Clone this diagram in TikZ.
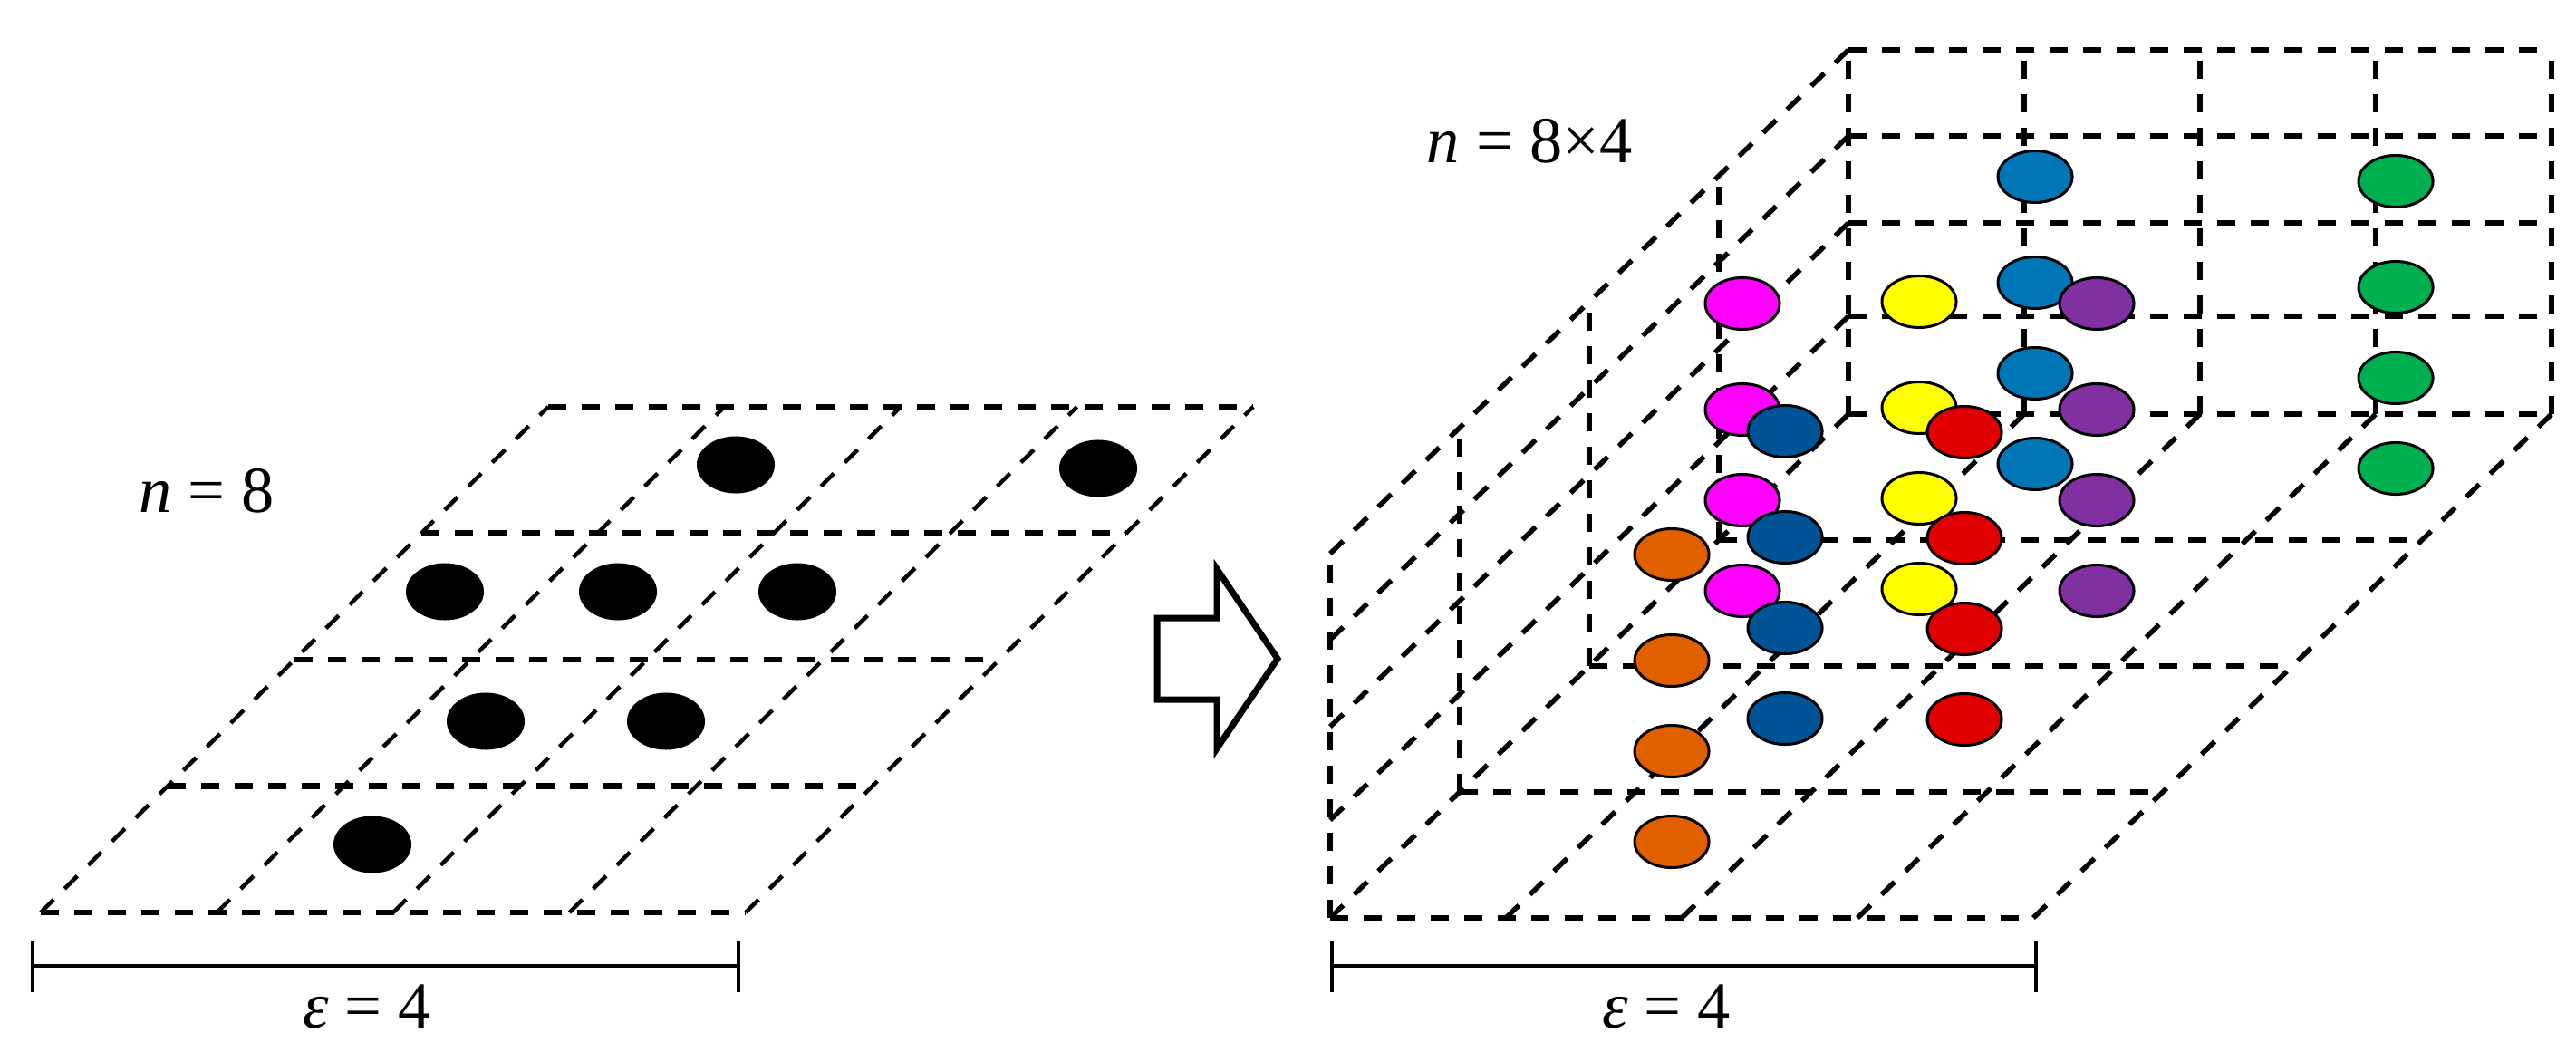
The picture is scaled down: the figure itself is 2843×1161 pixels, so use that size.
\documentclass[tikz,border=0pt]{standalone}
\usepackage{fontspec}
\setmainfont{Liberation Serif}
\usepackage{tikz}
\usetikzlibrary{positioning}
\usetikzlibrary{shapes.geometric}

\definecolor{dotmagenta}{RGB}{255,0,255}
\definecolor{dotnavy}{RGB}{0,84,150}
\definecolor{dotorange}{RGB}{224,96,0}
\definecolor{dotyellow}{RGB}{255,255,0}
\definecolor{dotred}{RGB}{224,0,0}
\definecolor{dotblue}{RGB}{0,118,182}
\definecolor{dotpurple}{RGB}{128,48,160}
\definecolor{dotgreen}{RGB}{0,176,80}

\tikzset{
	gridline/.style = {line width=0.055cm, dash pattern=on 0.2cm off 0.17cm},
	blackdot/.style = {ellipse, fill=black, inner sep=0pt, minimum width=0.86cm, minimum height=0.63cm},
	colordot/.style = {ellipse, draw=black, fill=#1, line width=0.03cm, inner sep=0pt,
					   minimum width=0.82cm, minimum height=0.57cm},
	lbl/.style = {inner sep=0pt, font=\fontsize{20.6pt}{25pt}\selectfont},
	bar/.style = {line width=0.04cm}
}

\begin{document}
\begin{tikzpicture}[x=0.01cm, y=-0.01cm]
	\useasboundingbox (0,0) rectangle (2843,1161);

	% plane, n = 8
	\foreach \r in {0,...,4}
		\draw[gridline, line width=0.065cm] ({45+140*\r},{1007-139.5*\r}) -- ++(778,0);
	\foreach \c in {0,...,4}
		\draw[gridline, line width=0.045cm] ({45+194.5*\c},1007) -- ++(560,-558);
	\foreach \x/\y [count=\i] in {812/513, 1212/517, 491/653, 682/653, 880/653, 536/796, 735/796, 411/932}
		\node[blackdot] (p\i) at (\x,\y) {};
	\node[lbl, anchor=base] (nleft) at (228,565) {\textit{n} = 8};

	% epsilon, left
	\coordinate (la) at (36,1066);
	\coordinate (lb) at (815,1066);
	\coordinate (lmid) at (405,1066);
	\draw[bar] (la) -- (lb);
	\draw[bar] (la) ++(0,-27) -- ++(0,56);
	\draw[bar] (lb) ++(0,-27) -- ++(0,56);
	\node[lbl, below=0.2cm of lmid] (epsleft) {\textit{ε} = 4};

	% arrow
	\draw[line width=0.07cm] (1277,682) -- (1343,682) -- (1343,628) -- (1410,727)
		-- (1343,826) -- (1343,772) -- (1277,772) -- cycle;

	% floor
	\foreach \r in {0,...,4}
		\draw[gridline] ({1468+143*\r},{1013-139*\r}) -- ++(776,0);
	\foreach \c in {0,...,4}
		\draw[gridline] ({1468+194*\c},1013) -- ++(572,-556);
	% left wall
	\foreach \r in {0,...,4}
		\draw[gridline] ({1468+143*\r},{1013-139*\r}) -- ++(0,-402);
	\foreach \h in {108,211,307,402}
		\draw[gridline] (1468,{1013-\h}) -- ++(572,-556);
	% back wall
	\foreach \c in {1,...,4}
		\draw[gridline] ({2040+194*\c},457) -- ++(0,-402);
	\foreach \h in {108,211,307,402}
		\draw[gridline] (2040,{457-\h}) -- ++(776,0);

	% stacked points, n = 8x4
	\foreach \col/\x/\y in {dotmagenta/1923/652, dotnavy/1970/793, dotorange/1845/929, dotyellow/2118/650,
						   dotred/2168/794, dotblue/2246/512, dotpurple/2314/652, dotgreen/2644/517}
		\foreach \dy [count=\j] in {0,100,200,317}
			\node[colordot=\col] (\col\j) at (\x,{\y-\dy}) {};
	\node[lbl, anchor=base] (nright) at (1688,180) {\textit{n} = 8×4};

	% epsilon, right
	\coordinate (ra) at (1470,1066);
	\coordinate (rb) at (2247,1066);
	\coordinate (rmid) at (1839,1066);
	\draw[bar] (ra) -- (rb);
	\draw[bar] (ra) ++(0,-27) -- ++(0,56);
	\draw[bar] (rb) ++(0,-27) -- ++(0,56);
	\node[lbl, below=0.2cm of rmid] (epsright) {\textit{ε} = 4};
\end{tikzpicture}
\end{document}
